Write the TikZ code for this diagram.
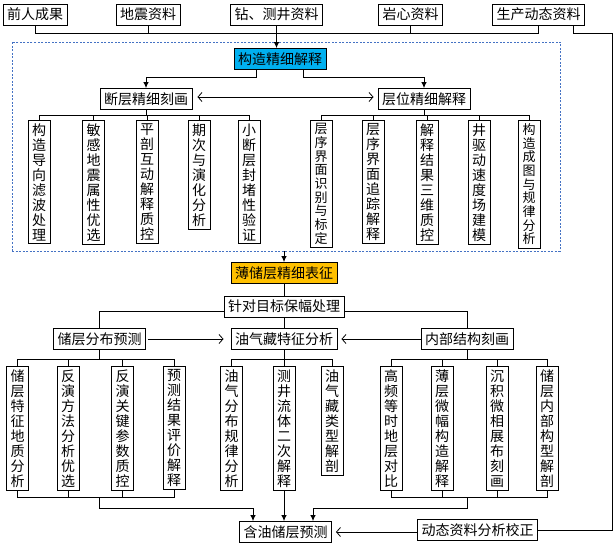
\documentclass[tikz,border=0pt]{standalone}
\usepackage{fontspec}
\setmainfont{Noto Sans CJK SC}
\usetikzlibrary{arrows.meta}
\XeTeXlinebreaklocale "zh"
\XeTeXlinebreakskip=0pt plus 1pt
\definecolor{gzblue}{RGB}{0,176,240}
\definecolor{bcyellow}{RGB}{255,192,0}
\definecolor{framecol}{RGB}{68,114,196}

\begin{document}
\begin{tikzpicture}[
	x=1pt,
	y=-1pt,
	box/.style={draw,line width=0.9pt,font=\fontsize{14}{16}\selectfont,inner xsep=4pt,inner ysep=0pt,minimum height=21pt},
	vbox/.style={draw,line width=0.9pt,anchor=north,text width=14.5pt,align=center,inner xsep=3.75pt,inner ysep=3pt,font=\fontsize{14}{15}\selectfont},
	tight/.style={font=\fontsize{13}{13.7}\selectfont},
	dashframe/.style={draw=framecol,line width=0.8pt,dash pattern=on 2pt off 1.5pt},
	conn/.style={line width=0.8pt},
	arr/.style={conn,-{Latex[length=6pt,width=5.5pt]}},
	barb/.style={conn,-{Straight Barb[length=4pt,width=9pt]}},
	barbs/.style={conn,{Straight Barb[length=4pt,width=9pt]}-{Straight Barb[length=4pt,width=9pt]}}
	]
	\useasboundingbox (0,0) rectangle (616,548);
	\coordinate (busT) at (0,33);
	\coordinate (busG) at (0,77);
	\coordinate (busA) at (0,115);
	\coordinate (busB) at (0,359);
	\coordinate (busC) at (0,497);
	\coordinate (busD) at (0,508.5);
	\coordinate (rt) at (612,33);

	\node[box] (qrcg) at (35,14.5) {前人成果};
	\node[box] (dzzl) at (148,14.5) {地震资料};
	\node[box] (zjzl) at (276.5,14.5) {钻、测井资料};
	\node[box] (yxzl) at (410.5,14.5) {岩心资料};
	\node[box] (scdt) at (538.5,14.5) {生产动态资料};

	\node[dashframe,minimum width=548pt,minimum height=209pt] (frame) at (286,146.5) {};
	\node[box,fill=gzblue] (gzjx) at (280,59) {构造精细解释};
	\node[box] (dcjx) at (146,99) {断层精细刻画};
	\node[box] (cwjx) at (424,99) {层位精细解释};

	\node[vbox] (d1) at (39,120) {构造导向滤波处理};
	\node[vbox] (d2) at (93.5,120) {敏感地震属性优选};
	\node[vbox] (d3) at (147,120) {平剖互动解释质控};
	\node[vbox] (d4) at (199,120) {期次与演化分析};
	\node[vbox] (d5) at (249,120) {小断层封堵性验证};
	\node[vbox,tight] (h1) at (321,120) {层序界面识别与标定};
	\node[vbox] (h2) at (373,120) {层序界面追踪解释};
	\node[vbox] (h3) at (427,120) {解释结果三维质控};
	\node[vbox] (h4) at (479,120) {井驱动速度场建模};
	\node[vbox,tight] (h5) at (529,120) {构造成图与规律分析};

	\node[box,fill=bcyellow] (bccj) at (284,273) {薄储层精细表征};
	\node[box] (zdcl) at (284,306.5) {针对目标保幅处理};
	\node[box] (ccyc) at (99.5,339) {储层分布预测};
	\node[box] (yqcf) at (284,339) {油气藏特征分析};
	\node[box] (nbjg) at (467,339) {内部结构刻画};

	\node[vbox] (s1) at (17.5,366) {储层特征地质分析};
	\node[vbox] (s2) at (68,366) {反演方法分析优选};
	\node[vbox] (s3) at (122.5,366) {反演关键参数质控};
	\node[vbox] (s4) at (174,366) {预测结果评价解释};
	\node[vbox] (y1) at (231.5,366) {油气分布规律分析};
	\node[vbox] (y2) at (284,366) {测井流体二次解释};
	\node[vbox] (y3) at (332,366) {油气藏类型解剖};
	\node[vbox] (n1) at (391,366) {高频等时地层对比};
	\node[vbox] (n2) at (442,366) {薄层微幅构造解释};
	\node[vbox] (n3) at (497,366) {沉积微相展布刻画};
	\node[vbox] (n4) at (547,366) {储层内部构型解剖};

	\node[box] (hyyc) at (285.5,532) {含油储层预测};
	\node[box] (dtjz) at (477.5,530) {动态资料分析校正};

	\draw[conn] (qrcg.south) |- (scdt.south |- busT) -- (scdt.south);
	\draw[conn] (dzzl.south) -- (dzzl.south |- busT);
	\draw[conn] (yxzl.south) -- (yxzl.south |- busT);
	\draw[arr] (zjzl.south) -- (zjzl.south |- gzjx.north);
	\draw[conn] ([xshift=34.5pt]scdt.south) |- (rt) |- (dtjz.east);

	\draw[arr] ([xshift=-24pt]gzjx.south) |- (dcjx.north |- busG) -- (dcjx.north);
	\draw[arr] ([xshift=23pt]gzjx.south) |- (cwjx.north |- busG) -- (cwjx.north);
	\draw[barbs,shorten <=5pt,shorten >=4pt] ([yshift=2pt]dcjx.east) -- ([yshift=2pt]cwjx.west);

	\draw[conn] (d1.north) |- (d5.north |- busA) -- (d5.north);
	\draw[conn] (d2.north) -- (d2.north |- busA);
	\draw[conn] (d3.north) -- (d3.north |- busA);
	\draw[conn] (d4.north) -- (d4.north |- busA);
	\draw[conn] (dcjx.south) -- (dcjx.south |- busA);
	\draw[conn] (h1.north) |- (h5.north |- busA) -- (h5.north);
	\draw[conn] (h2.north) -- (h2.north |- busA);
	\draw[conn] (h3.north) -- (h3.north |- busA);
	\draw[conn] (h4.north) -- (h4.north |- busA);
	\draw[conn] (cwjx.south) -- (cwjx.south |- busA);

	\draw[arr] (frame.south -| bccj.north) -- (bccj.north);
	\draw[conn] (bccj.south) -- (zdcl.north);
	\draw[conn] ([yshift=-5pt]zdcl.west) -| (ccyc.north);
	\draw[conn] ([yshift=-5pt]zdcl.east) -| (nbjg.north);
	\draw[conn] (zdcl.south) -- (yqcf.north);
	\draw[barb,shorten <=2pt,shorten >=7pt] (ccyc.east) -- (yqcf.west);
	\draw[barb,shorten >=4pt] (nbjg.west) -- (yqcf.east);

	\draw[conn] (s1.north) |- (s4.north |- busB) -- (s4.north);
	\draw[conn] (s2.north) -- (s2.north |- busB);
	\draw[conn] (s3.north) -- (s3.north |- busB);
	\draw[conn] (ccyc.south) -- (ccyc.south |- busB);
	\draw[conn] (y1.north) |- (y3.north |- busB) -- (y3.north);
	\draw[conn] (yqcf.south) -- (y2.north);
	\draw[conn] (n1.north) |- (n4.north |- busB) -- (n4.north);
	\draw[conn] (n2.north) -- (n2.north |- busB);
	\draw[conn] (n3.north) -- (n3.north |- busB);
	\draw[conn] (nbjg.south) -- (nbjg.south |- busB);

	\draw[conn] (s1.south) |- (s4.south |- busC) -- (s4.south);
	\draw[conn] (s2.south) -- (s2.south |- busC);
	\draw[conn] (s3.south) -- (s3.south |- busC);
	\draw[conn] (n1.south) |- (n4.south |- busC) -- (n4.south);
	\draw[conn] (n2.south) -- (n2.south |- busC);
	\draw[conn] (n3.south) -- (n3.south |- busC);
	\draw[arr] (ccyc.south |- busC) -- (ccyc.south |- busD) -| ([xshift=-32.5pt]hyyc.north);
	\draw[arr] (nbjg.south |- busC) -- (nbjg.south |- busD) -| ([xshift=27.5pt]hyyc.north);
	\draw[arr] (y2.south) -- (y2.south |- hyyc.north);
	\draw[barb,shorten >=4pt] (hyyc.east -| dtjz.west) -- (hyyc.east);
\end{tikzpicture}
\end{document}
